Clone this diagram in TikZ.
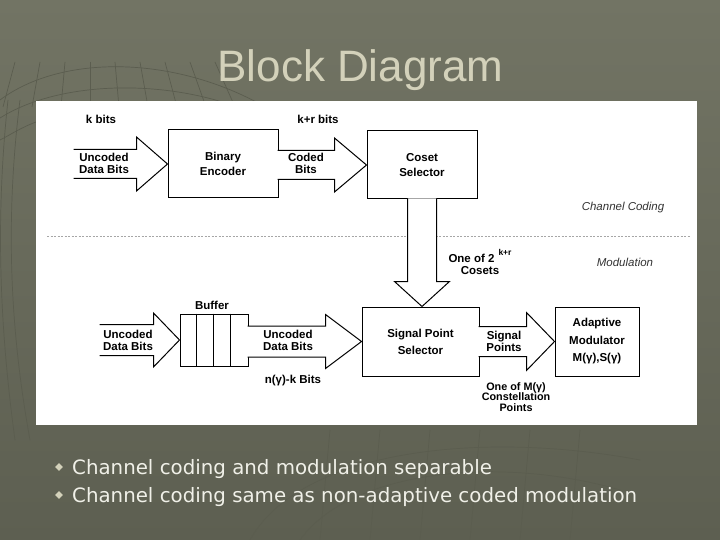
\documentclass[tikz,border=0pt]{standalone}
\usepackage{fontspec}
\setmainfont{Liberation Sans}
\newfontfamily\dejavu{DejaVu Sans}
\usetikzlibrary{shapes.geometric}
\definecolor{bgtop}{HTML}{727464}
\definecolor{bgbot}{HTML}{5D5F51}
\definecolor{titlecol}{HTML}{D3D1BA}
\definecolor{bulletcol}{HTML}{F0F0E8}
\definecolor{meshcol}{HTML}{5B5D4F}
\newcommand{\hblock}[5]{% tip, total length, head length, shaft half, head half
  \draw[barrow] (#1) ++(-#2,-#4) -- ++(#2-#3,0) -- ++(0,#4-#5) -- (#1)
    -- ++(-#3,#5) -- ++(0,#4-#5) -- ++(-#2+#3,0);}
\begin{document}
\begin{tikzpicture}[x=1pt,y=-1pt,
  lbl/.style={font=\fontsize{11.5}{11.8}\selectfont\bfseries, align=center, inner sep=0pt},
  boxlbl/.style={font=\fontsize{11.5}{15}\selectfont\bfseries, align=center, inner sep=0pt},
  blk/.style={draw=black, line width=1pt, fill=white, inner sep=0pt},
  barrow/.style={draw=black, line width=1pt, fill=white, line join=miter},
  ital/.style={font=\fontsize{11.5}{13}\selectfont\itshape, inner sep=0pt, text=black!80},
  bul/.style={diamond, fill=titlecol, inner sep=0pt, minimum size=8pt},
  bultxt/.style={anchor=base west, inner sep=0pt, text=bulletcol, font=\dejavu\fontsize{19.8}{24}\selectfont}]
\useasboundingbox (0,0) rectangle (720,540);
\fill[top color=bgtop, bottom color=bgbot] (0,0) rectangle (720,540);
% decorative mesh
\begin{scope}[draw=meshcol, line width=0.7pt]
  \draw (0,100) .. controls (60,55) and (170,55) .. (260,104);
  \draw (0,118) .. controls (60,80) and (170,78) .. (250,112);
  \draw (0,140) .. controls (10,135) and (20,128) .. (36,122);
  \foreach \x/\a in {15/-12,40/-8,65/-4,90/0,115/4,140/8,165/12,190/16,215/20}
    \draw (\x,62) -- ++(\a,45);
  \draw (20,100) .. controls (5,220) and (10,330) .. (30,440);
  \draw (8,100) .. controls (-5,220) and (0,330) .. (15,440);
  \draw (250,540) .. controls (300,450) and (480,430) .. (640,460);
  \draw (300,540) .. controls (350,470) and (500,455) .. (620,490);
  \foreach \x in {330,380,430,480,530,580}
    \draw (\x,430) -- ++(-10,110);
\end{scope}
\node[anchor=base, font=\fontsize{44}{44}\selectfont, text=titlecol, inner sep=0pt] (title) at (360.5,82) {Block Diagram};
\node[fill=white, anchor=north west, minimum width=661pt, minimum height=324pt, inner sep=0pt] (panel) at (36,101) {};
% boxes
\node[blk, minimum width=110pt, minimum height=68pt] (enc) at (223,164) {};
\node[blk, minimum width=110pt, minimum height=68pt] (coset) at (422,165) {};
\node[blk, minimum width=68pt, minimum height=52pt] (buf) at (214,340) {};
\foreach \i in {1,2,3}
  \draw[line width=1pt] ([xshift=17*\i pt]buf.north west) -- ([xshift=17*\i pt]buf.south west);
\node[blk, minimum width=117pt, minimum height=69pt] (sps) at (420.5,341.5) {};
\node[blk, minimum width=84pt, minimum height=69pt] (adm) at (597,341.5) {};
% dashed separator
\coordinate (dl) at (47,236);
\coordinate (dr) at (690,236);
\draw[gray!70, line width=0.6pt, dash pattern=on 2pt off 1.5pt] (dl) -- (dr);
% block arrows
\hblock{enc.west}{94}{31}{14.5}{27}
\hblock{coset.west}{89}{32}{14.5}{27}
\hblock{buf.west}{80}{26}{15.5}{27}
\hblock{sps.west}{114}{36}{15.5}{27}
\hblock{adm.west}{76}{28}{15}{29}
\coordinate (vtip) at (coset.south |- sps.north);
\draw[barrow] (vtip) ++(-14.5,-108) -- ++(0,83) -- ++(-13,0) -- (vtip)
  -- ++(27.5,-25) -- ++(-13,0) -- ++(0,-83);
% labels
\node[lbl] (kb) at (101,119) {k bits};
\node[lbl] (krb) at (318,119) {k+r bits};
\node[lbl] (ud1) at (104,163) {Uncoded\\Data Bits};
\node[lbl] (cb) at (306,163) {Coded\\Bits};
\node[boxlbl] (encl) at (enc) {Binary\\Encoder};
\node[boxlbl] (cosl) at (coset) {Coset\\Selector};
\node[lbl] (onec) at (480,262) {One of 2\hspace{4pt}\raisebox{1.1ex}{\fontsize{8.5}{8.5}\selectfont k+r}\\Cosets};
\node[ital] (cc) at (623,208) {Channel Coding};
\node[ital] (mod) at (625,262) {Modulation};
\node[lbl] (bufl) at (212,305) {Buffer};
\node[lbl] (ud2) at (128,340) {Uncoded\\Data Bits};
\node[lbl] (ud3) at (288,340) {Uncoded\\Data Bits};
\node[lbl] (nk) at (293,381) {n(γ)-k Bits};
\node[boxlbl, font=\fontsize{11.5}{17}\selectfont\bfseries] (spsl) at (sps) {Signal Point\\Selector};
\node[lbl] (spl) at (504,341) {Signal\\Points};
\node[boxlbl, font=\fontsize{11.5}{17.5}\selectfont\bfseries] (adml) at (adm) {Adaptive\\Modulator\\M(γ),S(γ)};
\node[lbl, font=\fontsize{10.8}{10.3}\selectfont\bfseries] (cpl) at (516,397) {One of M(γ)\\Constellation\\Points};
% bullets
\node[bul] (b1) at (59,467) {};
\node[bul] (b2) at (59,495) {};
\node[bultxt] (t1) at (72,474) {Channel coding and modulation separable};
\node[bultxt] (t2) at (72,502) {Channel coding same as non-adaptive coded modulation};
\end{tikzpicture}
\end{document}
